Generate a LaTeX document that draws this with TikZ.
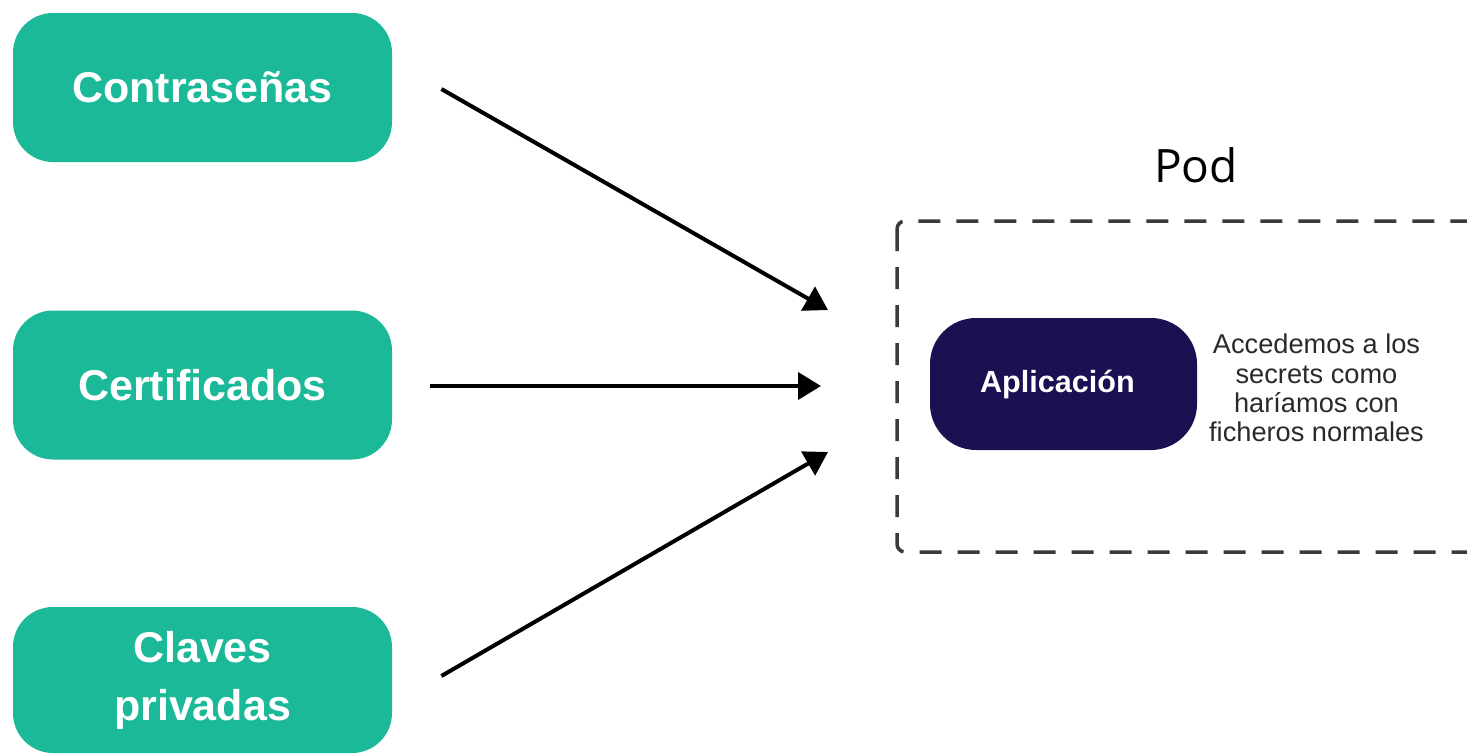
\documentclass[tikz,border=0pt]{standalone}
\usepackage{fontspec}
\setmainfont{Liberation Sans}
\newfontfamily\podfont{Open Sans}
\usetikzlibrary{arrows.meta}
\definecolor{teal}{HTML}{1BB998}
\definecolor{navy}{HTML}{1B1152}
\definecolor{dashgray}{HTML}{3A3A3A}
\definecolor{textgray}{HTML}{2A2A2A}
\tikzset{
  kind/.style={fill=teal, rounded corners=20pt, minimum width=189.5pt,
    minimum height=74.5pt, inner sep=0pt, text=white, align=center,
    font=\fontsize{21.5}{29}\selectfont\bfseries},
  appbox/.style={fill=navy, rounded corners=23pt, minimum width=133.5pt,
    minimum height=66pt, inner sep=0pt, text=white,
    font=\fontsize{15.3}{18}\selectfont\bfseries},
  flow/.style={line width=2pt, -{Triangle[length=11.5pt,width=13.5pt]}},
  podline/.style={draw=dashgray, line width=1.75pt, dash pattern=on 11pt off 8pt,
    rounded corners=4pt},
}
\begin{document}
\begin{tikzpicture}[x=0.5pt, y=-0.5pt]
\path[use as bounding box] (0,0) rectangle (1467,755);
\clip (0,0) rectangle (1467,755);
\fill[white] (0,0) rectangle (1467,755);

% source boxes
\node[kind] (pw) at (202.5,87.5) {Contraseñas};
\node[kind] (cert) at (202.5,385) {Certificados};
\node[kind, minimum height=73pt] (keys) at (202.5,680) {Claves\\privadas};

% pod frame
\draw[podline] (897,221) rectangle (1490,552);
\node[font=\podfont\fontsize{23}{27}\selectfont] (pod) at (1196,165) {Pod};

% application inside the pod
\node[appbox] (app) at (1063.5,384) {\hspace*{-6pt}Aplicación};
\node[font=\fontsize{13.6}{14.6}\selectfont, text=textgray, align=center]
  (note) at (1316.5,388) {Accedemos a los\\secrets como\\haríamos con\\ficheros normales};

% arrow end points
\coordinate (s1) at ([xshift=24.5pt, yshift=-0.75pt]pw.east);
\coordinate (s2) at ([xshift=19pt, yshift=-0.5pt]cert.east);
\coordinate (s3) at ([xshift=24.5pt, yshift=2pt]keys.east);
\coordinate (e1) at (828,310);
\coordinate (e2) at (821,386);
\coordinate (e3) at (828,452);

\draw[flow] (s1) -- (e1);
\draw[flow] (s2) -- (e2);
\draw[flow] (s3) -- (e3);
\end{tikzpicture}
\end{document}
